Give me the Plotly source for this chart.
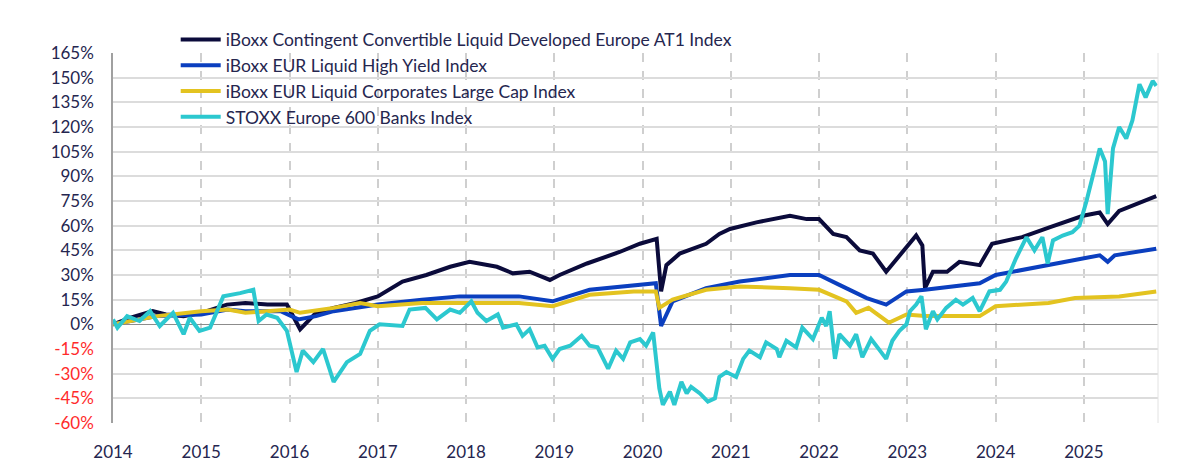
import plotly.graph_objects as go

# values (cumulative total return, %)
at1_x = [2014.0, 2014.2, 2014.45, 2014.6, 2014.8, 2015.0, 2015.29, 2015.5, 2015.75, 2015.97,
         2016.12, 2016.3, 2016.5, 2016.75, 2017.0, 2017.28, 2017.55, 2017.82, 2018.04, 2018.35,
         2018.53, 2018.72, 2018.95, 2019.06, 2019.37, 2019.74, 2019.97, 2020.16, 2020.21, 2020.27,
         2020.42, 2020.72, 2020.87, 2020.99, 2021.29, 2021.67, 2021.86, 2022.0, 2022.16, 2022.31,
         2022.46, 2022.61, 2022.76, 2022.88, 2023.1, 2023.17, 2023.2, 2023.29, 2023.45, 2023.59,
         2023.82, 2023.96, 2024.3, 2024.61, 2024.99, 2025.18, 2025.27, 2025.4, 2025.63, 2025.82]
at1_y = [0, 4, 8, 6, 5, 7, 12, 13, 12, 12,
         -3, 7, 10, 13, 17, 26, 30, 35, 38, 35,
         31, 32, 27, 30, 37, 44, 49, 52, 20, 36,
         43, 49, 55, 58, 62, 66, 64, 64, 55, 53,
         45, 43, 32, 40, 54, 48, 22, 32, 32, 38,
         36, 49, 53, 59, 66, 68, 61, 69, 74, 78]

hy_x = [2014.0, 2014.5, 2015.0, 2015.3, 2015.5, 2015.9, 2016.1, 2016.3, 2016.5, 2016.75,
        2017.0, 2017.5, 2017.93, 2018.6, 2018.98, 2019.4, 2019.9, 2020.15, 2020.21, 2020.34,
        2020.72, 2021.1, 2021.67, 2022.0, 2022.23, 2022.54, 2022.76, 2022.99, 2023.2, 2023.82,
        2024.0, 2024.61, 2025.18, 2025.27, 2025.35, 2025.82]
hy_y = [0, 5, 6, 9, 8, 8, 3, 5, 8, 10,
        12, 15, 17, 17, 14, 21, 24, 25, -1, 14,
        22, 26, 30, 30, 24, 16, 12, 20, 21, 25,
        30, 36, 42, 38, 42, 46]

corp_x = [2014.0, 2014.5, 2015.0, 2015.3, 2015.5, 2016.0, 2016.12, 2016.5, 2016.8, 2017.0,
          2017.5, 2017.93, 2018.6, 2018.98, 2019.4, 2019.9, 2020.15, 2020.19, 2020.34, 2020.72,
          2021.1, 2021.67, 2022.0, 2022.31, 2022.42, 2022.56, 2022.79, 2022.99, 2023.2, 2023.82,
          2024.0, 2024.6, 2024.9, 2025.4, 2025.82]
corp_y = [0, 5, 8, 9, 7, 9, 7, 10, 13, 11,
          13, 13, 13, 11, 18, 20, 20, 10, 15, 21,
          23, 22, 21, 14, 7, 10, 1, 6, 5, 5,
          11, 13, 16, 17, 20]

banks_x = [2014.0, 2014.05, 2014.16, 2014.3, 2014.42, 2014.53, 2014.68, 2014.8, 2014.87, 2014.98,
           2015.1, 2015.25, 2015.44, 2015.59, 2015.65, 2015.74, 2015.86, 2015.97, 2016.08, 2016.15,
           2016.27, 2016.38, 2016.5, 2016.65, 2016.8, 2016.91, 2017.02, 2017.28, 2017.36, 2017.54,
           2017.67, 2017.82, 2017.93, 2018.06, 2018.13, 2018.23, 2018.36, 2018.42, 2018.57, 2018.64,
           2018.72, 2018.81, 2018.89, 2018.98, 2019.06, 2019.18, 2019.31, 2019.4, 2019.49, 2019.61,
           2019.7, 2019.78, 2019.86, 2019.97, 2020.04, 2020.12, 2020.19, 2020.23, 2020.31, 2020.36,
           2020.44, 2020.5, 2020.55, 2020.65, 2020.74, 2020.82, 2020.87, 2020.95, 2021.06, 2021.14,
           2021.21, 2021.33, 2021.4, 2021.52, 2021.55, 2021.63, 2021.74, 2021.81, 2021.93, 2022.03,
           2022.08, 2022.12, 2022.18, 2022.23, 2022.35, 2022.42, 2022.49, 2022.59, 2022.69, 2022.76,
           2022.83, 2022.91, 2022.99, 2023.03, 2023.1, 2023.16, 2023.21, 2023.29, 2023.34, 2023.44,
           2023.55, 2023.63, 2023.74, 2023.82, 2023.93, 2024.05, 2024.12, 2024.23, 2024.35, 2024.44,
           2024.53, 2024.59, 2024.65, 2024.76, 2024.87, 2024.95, 2025.03, 2025.1, 2025.18, 2025.24,
           2025.27, 2025.33, 2025.4, 2025.48, 2025.55, 2025.63, 2025.7, 2025.78, 2025.82]
banks_y = [3, -2, 5, 2, 8, -1, 7, -6, 4, -4,
           -2, 17, 19, 21, 2, 6, 4, -4, -29, -16,
           -23, -15, -35, -23, -18, -4, 0, -1, 9, 10,
           3, 9, 7, 14, 7, 2, 6, -2, 0, -7,
           -3, -14, -13, -21, -15, -13, -7, -13, -14, -27,
           -16, -21, -11, -9, -13, -5, -39, -49, -41, -49,
           -35, -42, -38, -42, -47, -45, -32, -29, -32, -21,
           -16, -20, -11, -15, -20, -10, -14, -2, -9, 4,
           -1, 8, -21, -6, -13, -6, -20, -9, -16, -21,
           -10, -4, 0, 8, 12, 17, -3, 8, 3, 10,
           15, 12, 16, 8, 20, 21, 26, 40, 53, 45,
           53, 37, 51, 54, 56, 60, 75, 91, 107, 99,
           67, 107, 120, 113, 124, 146, 138, 148, 145]

names = [
    "iBoxx Contingent Convertible Liquid Developed Europe AT1 Index",
    "iBoxx EUR Liquid High Yield Index",
    "iBoxx EUR Liquid Corporates Large Cap Index",
    "STOXX Europe 600 Banks Index",
]
colors = ["#0b0b3b", "#0b3fbf", "#e3c320", "#2cc8cf"]
years = list(range(2014, 2026))
y_ticks = list(range(-60, 166, 15))

navy = "#25264f"
tick_text = [
    f'<span style="color:#ff2b2b">{v}%</span>' if v < 0 else f"{v}%"
    for v in y_ticks
]

fig = go.Figure()
for xs, ys, name, color in zip([at1_x, hy_x, corp_x, banks_x],
                               [at1_y, hy_y, corp_y, banks_y], names, colors):
    fig.add_trace(go.Scatter(
        x=xs, y=ys, name=name,
        mode="lines",
        line=dict(color=color, width=4),
    ))

fig.update_layout(
    width=1200, height=466,
    margin=dict(l=105, r=50, t=45, b=51),
    plot_bgcolor="white", paper_bgcolor="white",
    font=dict(family="Lato", size=17, color=navy),
    showlegend=True,
    legend=dict(
        x=0.06, y=1.085, xanchor="left", yanchor="top",
        bgcolor="rgba(0,0,0,0)", font=dict(size=17.5, color=navy),
        itemwidth=40,
    ),
)
fig.update_xaxes(
    range=[2014, 2025.84],
    tickmode="array", tickvals=years, ticktext=[str(y) for y in years],
    showgrid=True, gridcolor="#cfcfcf", griddash="dash", gridwidth=1.5,
    zeroline=False, showline=False, ticks="",
    ticklabelstandoff=17,
)
fig.update_yaxes(
    range=[-60, 165],
    tickmode="array", tickvals=y_ticks, ticktext=tick_text,
    showgrid=True, gridcolor="#dcdcdc", gridwidth=1.5,
    zeroline=True, zerolinecolor="#8c8c8c", zerolinewidth=1,
    showline=True, linecolor="#a0a0a0", linewidth=1.5, ticks="",
    ticklabelstandoff=14,
)
fig.add_shape(type="line", xref="paper", yref="paper", x0=1, x1=1, y0=0, y1=1,
              line=dict(color="#e2e2e2", width=1))

fig.write_html("out.html")
